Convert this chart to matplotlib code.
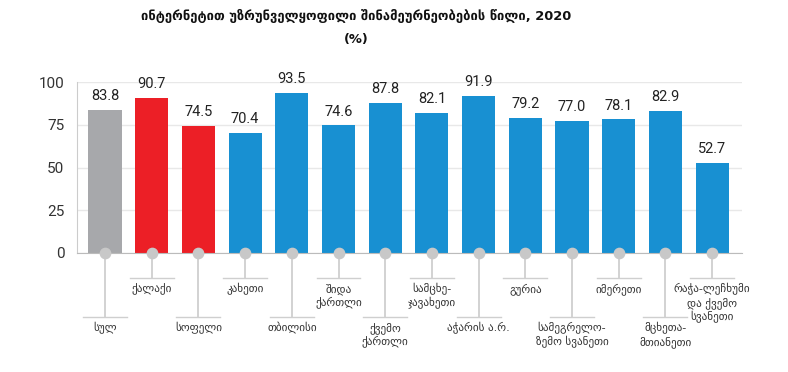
"""
Share of households with internet access, 2020 (Georgia)
"""
import numpy as np
import matplotlib
matplotlib.use("Agg")
import matplotlib.pyplot as plt

plt.rcParams["font.family"] = ["DejaVu Sans"]

categories = ["სულ", "ქალაქი", "სოფელი", "კახეთი", "თბილისი", "შიდა\nქართლი",
              "ქვემო\nქართლი", "სამცხე-\nჯავახეთი", "აჭარის ა.რ.", "გურია",
              "სამეგრელო-\nზემო სვანეთი", "იმერეთი", "მცხეთა-\nმთიანეთი",
              "რაჭა-ლეჩხუმი\nდა ქვემო\nსვანეთი"]
values = [83.8, 90.7, 74.5, 70.4, 93.5, 74.6, 87.8, 82.1, 91.9, 79.2, 77.0, 78.1, 82.9, 52.7]
groups = ["total", "urban", "urban"] + ["region"] * 11
yticks = [0, 25, 50, 75, 100]

colors = {"total": "#a7a8ab", "urban": "#ec1f26", "region": "#1890d2"}
line_color = "#cfcfcf"
num_font = ["Roboto", "DejaVu Sans"]

fig = plt.figure(figsize=(7.88, 3.72), dpi=100)
ax = fig.add_axes([77 / 788, (372 - 253) / 372, (742 - 77) / 788, 171 / 372])

x = np.arange(len(values))
ax.bar(x, values, width=0.71, color=[colors[g] for g in groups], zorder=2)

for xi, v in zip(x, values):
    ax.text(xi, v + 4, f"{v:.1f}", ha="center", va="bottom", fontsize=10.5,
            color="#222222", family=num_font)

# label leader lines below the baseline (alternating short / long)
for i, (xi, label) in enumerate(zip(x, categories)):
    if i % 2 == 0:
        y_end, y_text = -37.4, -40.3
    else:
        y_end, y_text = -14.6, -17.6
    ax.plot([xi, xi], [0, y_end], color=line_color, lw=1.3, clip_on=False, zorder=1)
    ax.plot([xi - 0.47, xi + 0.47], [y_end, y_end], color=line_color, lw=1.0, clip_on=False, zorder=1)
    ax.text(xi, y_text, label, ha="center", va="top", fontsize=8, color="#333333",
            linespacing=1.2)

ax.scatter(x, np.zeros_like(x), s=55, color="#c8c8c8", zorder=3, clip_on=False)

ax.set_xlim(-0.6, 13.64)
ax.set_ylim(0, 100)
ax.set_yticks(yticks)
ax.set_xticks([])
ax.tick_params(axis="y", length=0, labelsize=11, labelcolor="#333333", pad=9)
for lbl in ax.get_yticklabels():
    lbl.set_family(num_font)
ax.grid(axis="y", color="#e8e8e8", lw=1, zorder=0)
for side in ["top", "right"]:
    ax.spines[side].set_visible(False)
ax.spines["left"].set_color("#cccccc")
ax.spines["bottom"].set_color("#bbbbbb")
ax.spines["bottom"].set_zorder(2.5)

fig.text(356 / 788, 1 - 16 / 372, "ინტერნეტით უზრუნველყოფილი შინამეურნეობების წილი, 2020",
         ha="center", va="center", fontsize=9.4, fontweight="bold", color="#111111")
fig.text(356 / 788, 1 - 40 / 372, "(%)", ha="center", va="center", fontsize=9.4,
         fontweight="bold", color="#111111")

fig.savefig("out.png", dpi=100)
